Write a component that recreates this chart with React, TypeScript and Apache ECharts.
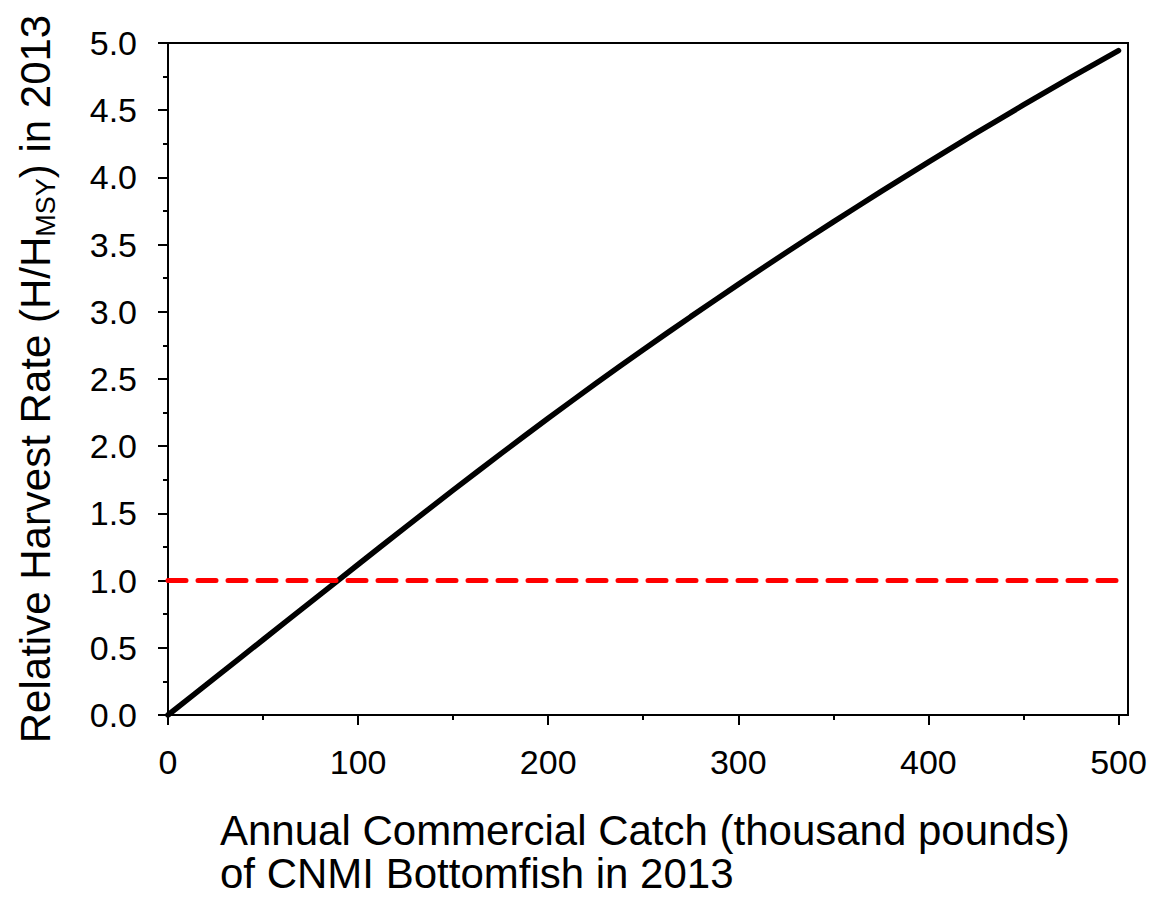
import React, { useEffect, useRef } from "react";
import * as echarts from "echarts";

const catchThousandLb = [0, 25, 50, 75, 100, 125, 150, 175, 200, 225, 250, 275, 300, 325, 350, 375, 400, 425, 450, 475, 500];
const relativeHarvestRate = [0, 0.28, 0.56, 0.84, 1.12, 1.398, 1.673, 1.943, 2.208, 2.466, 2.718, 2.964, 3.204, 3.439, 3.669, 3.894, 4.114, 4.329, 4.539, 4.744, 4.944];
const referenceLevel = 1.0;
const xMajorTicks = [0, 100, 200, 300, 400, 500];
const xMinorTicks = [50, 150, 250, 350, 450];
const xTitle = "Annual Commercial Catch (thousand pounds)\nof CNMI Bottomfish in 2013";

const FONT = '"Liberation Sans", Arial, Helvetica, sans-serif';

export default function App() {
  const ref = useRef<HTMLDivElement>(null);
  useEffect(() => {
    if (!ref.current) return;
    const chart = echarts.init(ref.current, null, { renderer: "svg" });
    const baseAxis = {
      type: "value",
      min: 0,
      max: 505,
      splitLine: { show: false },
    };
    chart.setOption({
      animation: false,
      backgroundColor: "#ffffff",
      grid: {
        left: 168,
        right: 28,
        top: 43,
        bottom: 187,
        show: true,
        borderColor: "#000",
        borderWidth: 2,
        backgroundColor: "transparent",
      },
      xAxis: [
        {
          ...baseAxis,
          position: "bottom",
          axisLine: { show: true, lineStyle: { color: "#000", width: 2 } },
          axisTick: {
            show: true,
            length: 10,
            inside: false,
            customValues: xMajorTicks,
            lineStyle: { color: "#000", width: 2 },
          },
          axisLabel: {
            customValues: xMajorTicks,
            margin: 30,
            color: "#000",
            fontSize: 34,
            fontFamily: FONT,
          },
        },
        {
          ...baseAxis,
          position: "bottom",
          axisLine: { show: false },
          axisTick: {
            show: true,
            length: 5,
            customValues: xMinorTicks,
            lineStyle: { color: "#000", width: 2 },
          },
          axisLabel: { show: false },
        },
      ],
      yAxis: {
        type: "value",
        min: 0,
        max: 5,
        interval: 0.5,
        splitLine: { show: false },
        axisLine: { show: true, lineStyle: { color: "#000", width: 2 } },
        axisTick: { show: true, length: 10, lineStyle: { color: "#000", width: 2 } },
        minorTick: { show: true, splitNumber: 2, length: 5, lineStyle: { color: "#000", width: 2 } },
        axisLabel: {
          margin: 31,
          color: "#000",
          fontSize: 34,
          fontFamily: FONT,
          formatter: (v: number) => v.toFixed(1),
        },
        name: "{a|Relative Harvest Rate (H/H}{s|MSY}{a|) in 2013}",
        nameLocation: "middle",
        nameRotate: 90,
        nameGap: 109,
        nameTextStyle: {
          color: "#000",
          fontFamily: FONT,
          fontSize: 42,
          rich: {
            a: { fontSize: 42, lineHeight: 48, fontFamily: FONT, color: "#000" },
            s: { fontSize: 27, lineHeight: 26, verticalAlign: "bottom", fontFamily: FONT, color: "#000" },
          },
        },
      },
      graphic: [
        {
          type: "text",
          left: 220,
          top: 809,
          style: {
            text: xTitle,
            font: `42px ${FONT}`,
            fill: "#000",
            lineHeight: 43,
          },
        },
      ],
      series: [
        {
          type: "line",
          xAxisIndex: 0,
          data: catchThousandLb.map((x, i) => [x, relativeHarvestRate[i]]),
          showSymbol: false,
          smooth: 0.2,
          lineStyle: { color: "#000", width: 5.5, cap: "round" },
          markLine: {
            silent: true,
            symbol: "none",
            label: { show: false },
            lineStyle: { color: "#ff0000", width: 5, type: [18, 12], cap: "round" },
            data: [{ yAxis: referenceLevel }],
          },
          z: 3,
        },
      ],
    });
    return () => chart.dispose();
  }, []);
  return (
    <div
      ref={ref}
      style={{ position: "fixed", left: 0, top: 0, width: 1156, height: 902, background: "#fff" }}
    />
  );
}
